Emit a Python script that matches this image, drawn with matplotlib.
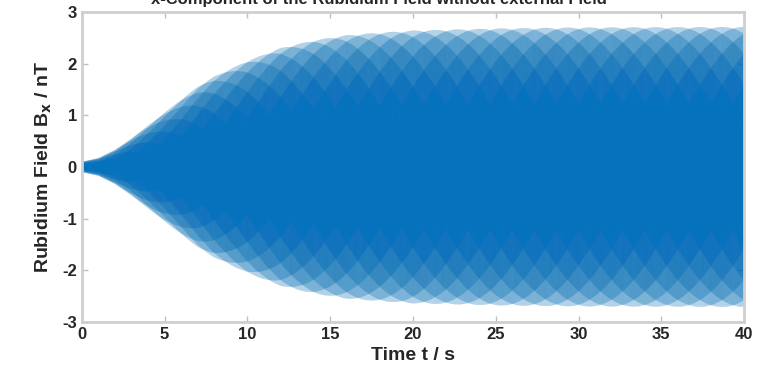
import numpy as np
import matplotlib
matplotlib.use('Agg')
import matplotlib.pyplot as plt
from matplotlib.collections import LineCollection

# envelope of the oscillation (time in s, amplitude in nT)
env_t = [0, 1, 2, 3, 4, 5, 6, 7, 8, 9, 10, 12, 14, 16, 18, 20, 25, 30, 40]
env_a = [0.1, 0.17, 0.33, 0.55, 0.8, 1.05, 1.3, 1.55, 1.75, 1.9, 2.05, 2.3, 2.45, 2.55, 2.6, 2.64, 2.68, 2.7, 2.71]
carrier_hz = 350.0375  # precession frequency of the signal
sample_hz = 1000.0     # sampling rate of the trace

x_ticks = [0, 5, 10, 15, 20, 25, 30, 35, 40]
y_ticks = [-3, -2, -1, 0, 1, 2, 3]

t = np.arange(0, 40 + 1 / sample_hz, 1 / sample_hz)
bx = np.interp(t, env_t, env_a) * np.sin(2 * np.pi * carrier_hz * t)

plt.rcParams['font.family'] = ['Liberation Sans', 'DejaVu Sans']
plt.rcParams['axes.unicode_minus'] = False

fig = plt.figure(figsize=(7.57, 3.86), dpi=100)
ax = fig.add_axes([0.108, 0.166, 0.875, 0.803])

# every step of the trace as its own segment so overlaps build up the shade
pts = np.column_stack([t, bx])
segs = np.stack([pts[:-1], pts[1:]], axis=1)
ax.add_collection(LineCollection(segs, colors='#0072BD', linewidths=0.5, alpha=0.08))

ax.set_xlim(0, 40)
ax.set_ylim(-3, 3)
ax.set_xticks(x_ticks)
ax.set_yticks(y_ticks)
ax.tick_params(direction='in', length=4, width=1, color='#c0c0c0',
               labelsize=12, labelcolor='#262626', top=True, right=True)
for lab in ax.get_xticklabels() + ax.get_yticklabels():
    lab.set_fontweight('bold')
for sp in ax.spines.values():
    sp.set_color('#cfcfcf')
    sp.set_linewidth(2)

ax.set_xlabel('Time t / s', fontsize=14, fontweight='bold', color='#262626', labelpad=4)
ax.set_ylabel(r'Rubidium Field B$_\mathbf{x}$ / nT', fontsize=14, fontweight='bold',
              color='#262626', labelpad=6)
fig.text(0.5, 1.002, 'x-Component of the Rubidium Field without external Field',
         ha='center', va='center', fontsize=12, fontweight='bold', color='#262626')

fig.savefig('out.png', dpi=100)
